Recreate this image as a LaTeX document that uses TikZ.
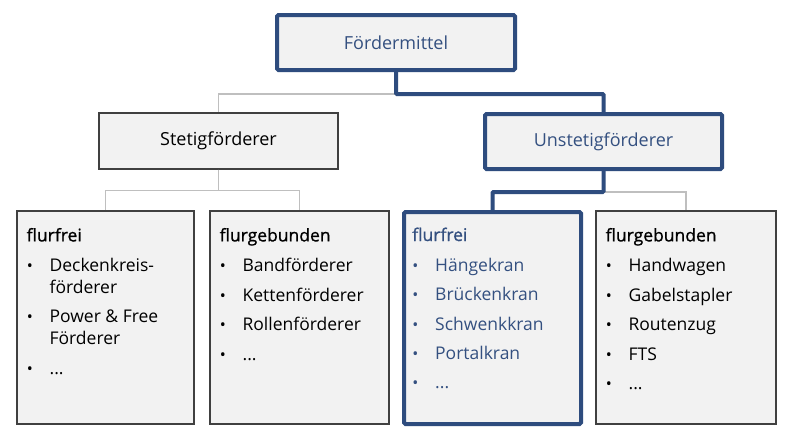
\documentclass[tikz,border=0pt]{standalone}
\usepackage{fontspec}
\setmainfont{Open Sans}
\newfontfamily\headfont[FakeBold=1.0]{Open Sans}
\usetikzlibrary{calc}
\definecolor{navy}{RGB}{46,76,126}
\definecolor{navytext}{RGB}{52,80,128}
\definecolor{boxfill}{RGB}{242,242,242}
\definecolor{conngray}{RGB}{191,191,191}
\definecolor{borderdark}{RGB}{64,64,64}
\newcommand\bitem[5]{% name, box, yoffset, text, colour
  \node[bul, text=#5, anchor=base] (#1b) at ($(#2.north west)+(13.5,#3)$) {•};
  \node[itm, text=#5, anchor=base west] (#1) at ($(#2.north west)+(33,#3)$) {#4};}
\newcommand\bcont[5]{%
  \node[itm, text=#5, anchor=base west] (#1) at ($(#2.north west)+(33,#3)$) {#4};}
\newcommand\bhead[4]{%
  \node[hd, text=#4, anchor=base west] (#1) at ($(#2.north west)+(10,31)$) {#3};}
\begin{document}
\begin{tikzpicture}[x=1pt,y=-1pt,
  plainbox/.style={draw=borderdark, line width=1.2pt, fill=boxfill, minimum width=#1, inner sep=0pt, font=\fontsize{18}{20}\selectfont},
  plainbox/.default=239pt,
  bluebox/.style={draw=navy, line width=4pt, rounded corners=1.5pt, fill=boxfill, minimum width=#1, inner sep=0pt, font=\fontsize{18}{20}\selectfont, text=navytext},
  bluebox/.default=238pt,
  grayconn/.style={draw=conngray, line width=1.2pt},
  blueconn/.style={draw=navy, line width=4pt, rounded corners=1pt},
  itm/.style={inner sep=0pt, font=\fontsize{17.5}{20}\selectfont},
  bul/.style={inner sep=0pt, font=\fontsize{16}{18}\selectfont},
  hd/.style={inner sep=0pt, font=\fontsize{17.5}{20}\headfont}
]
\useasboundingbox (0,0) rectangle (800,440);
\fill[white] (0,0) rectangle (800,440);
% level boxes
\node[bluebox, minimum height=55pt] (top) at (396,42.5) {Fördermittel};
\node[plainbox, minimum height=56pt] (stetig) at (218.5,141) {Stetigförderer};
\node[bluebox, minimum height=55pt, minimum width=237pt] (unstetig) at (603.5,141.5) {Unstetigförderer};
\node[plainbox, minimum width=177pt, minimum height=213pt] (b1) at (105.5,317.5) {};
\node[plainbox, minimum width=179pt, minimum height=213pt] (b2) at (299.5,317.5) {};
\node[bluebox, minimum width=177pt, minimum height=212pt] (b3) at (492.5,318) {};
\node[plainbox, minimum width=180pt, minimum height=213pt] (b4) at (686,317.5) {};
% connectors
\draw[grayconn] (top.south) -- ++(0,22) -| (stetig.north);
\draw[grayconn] (stetig.south) -- ++(0,21) -| (b1.north);
\draw[grayconn] (stetig.south) -- ++(0,21) -| (b2.north);
\draw[grayconn] (unstetig.south) -- ++(0,21) -| (b4.north);
\draw[blueconn] (top.south) -- ++(0,22) -| (unstetig.north);
\draw[blueconn] (unstetig.south) -- ++(0,21) -| (b3.north);
% box 1
\bhead{b1h}{b1}{flurfrei}{black}
\bitem{b1i1}{b1}{61}{Deckenkreis-}{black}
\bcont{b1i1c}{b1}{83}{förderer}{black}
\bitem{b1i2}{b1}{112}{Power \& Free}{black}
\bcont{b1i2c}{b1}{134}{Förderer}{black}
\bitem{b1i3}{b1}{164}{...}{black}
% box 2
\bhead{b2h}{b2}{flurgebunden}{black}
\bitem{b2i1}{b2}{61}{Bandförderer}{black}
\bitem{b2i2}{b2}{91}{Kettenförderer}{black}
\bitem{b2i3}{b2}{120.5}{Rollenförderer}{black}
\bitem{b2i4}{b2}{150}{...}{black}
% box 3
\bhead{b3h}{b3}{flurfrei}{navytext}
\bitem{b3i1}{b3}{61}{Hängekran}{navytext}
\bitem{b3i2}{b3}{90}{Brückenkran}{navytext}
\bitem{b3i3}{b3}{120}{Schwenkkran}{navytext}
\bitem{b3i4}{b3}{149}{Portalkran}{navytext}
\bitem{b3i5}{b3}{178.5}{...}{navytext}
% box 4
\bhead{b4h}{b4}{flurgebunden}{black}
\bitem{b4i1}{b4}{61}{Handwagen}{black}
\bitem{b4i2}{b4}{91}{Gabelstapler}{black}
\bitem{b4i3}{b4}{120}{Routenzug}{black}
\bitem{b4i4}{b4}{150}{FTS}{black}
\bitem{b4i5}{b4}{179.5}{...}{black}
\end{tikzpicture}
\end{document}
